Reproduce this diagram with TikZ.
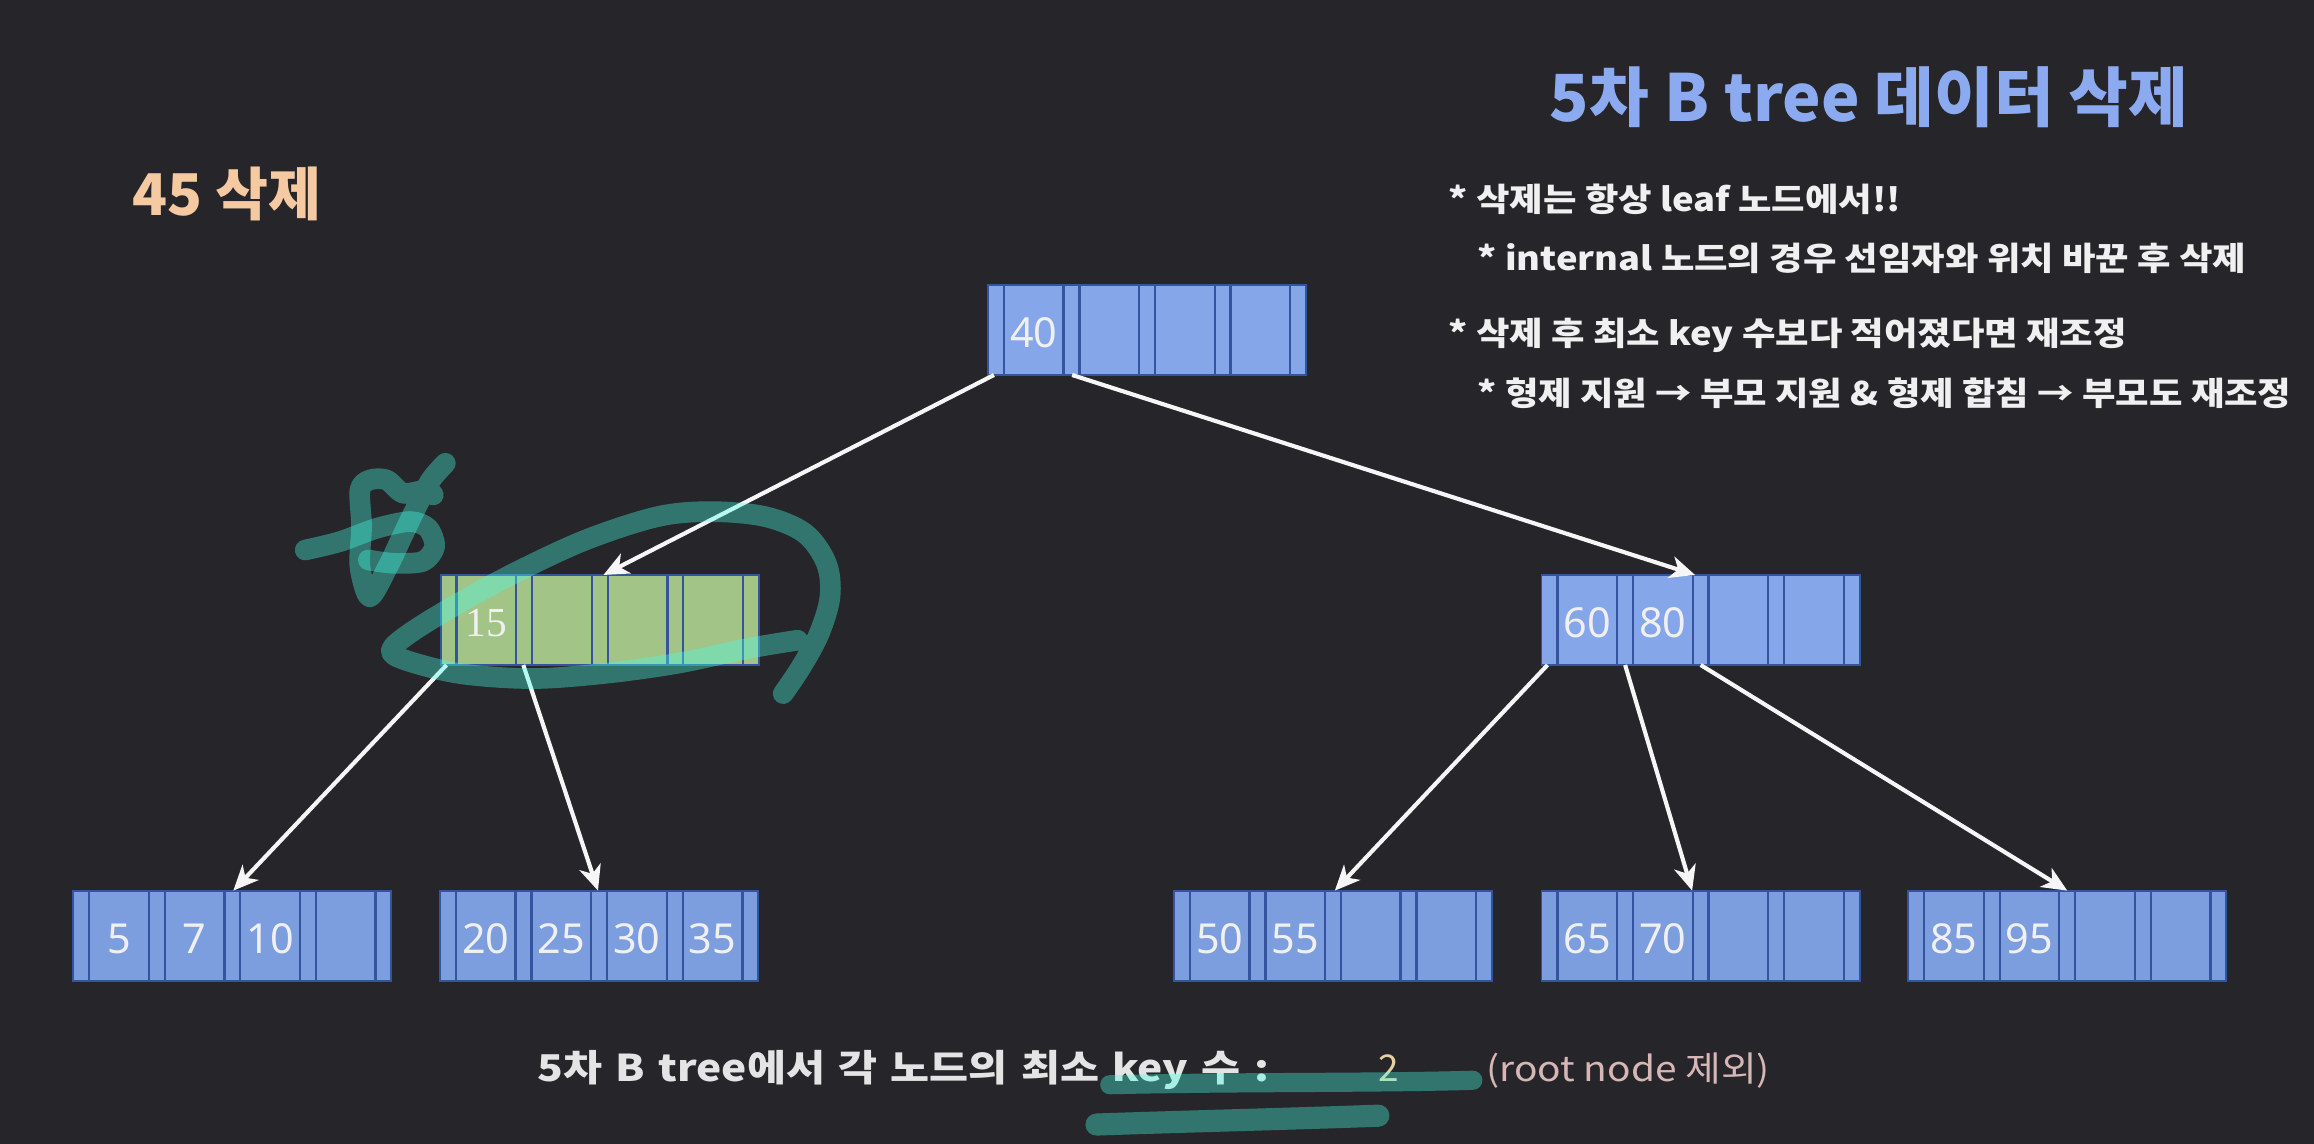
\documentclass[tikz,border=0pt]{standalone}
\usepackage{fontspec}
\usetikzlibrary{arrows.meta,calc}
\newfontfamily\kr{Noto Sans CJK KR}
\newfontfamily\krw[FakeStretch=1.12]{Noto Sans CJK KR}
\newfontfamily\krww[FakeStretch=1.15]{Noto Sans CJK KR}
\newfontfamily\numf{Noto Sans}
\newfontfamily\numserif{Liberation Serif}
\definecolor{bg}{RGB}{38,37,41}
\definecolor{nodeblue}{RGB}{134,166,234}
\definecolor{leafblue}{RGB}{124,157,222}
\definecolor{nodeborder}{RGB}{52,84,160}
\definecolor{nodegreen}{RGB}{162,196,135}
\definecolor{arrowc}{RGB}{246,246,246}
\definecolor{titlec}{RGB}{140,170,240}
\definecolor{peach}{RGB}{245,202,162}
\definecolor{textc}{RGB}{240,240,240}
\definecolor{bottomc}{RGB}{228,228,228}
\definecolor{twoc}{RGB}{230,210,160}
\definecolor{notec}{RGB}{215,182,182}
\definecolor{tealc}{RGB}{70,255,230}
\tikzset{
  bnode/.style={draw=nodeborder, line width=1.2pt, minimum width=215.6pt, minimum height=61pt, inner sep=0pt, outer sep=0pt, anchor=north west},
  divider/.style={draw=nodeborder, line width=1.6pt},
  keytxt/.style={text=textc, font=\numf\fontsize{28}{30}\selectfont, inner sep=0pt},
  arr/.style={draw=arrowc, line width=2.8pt, -{Stealth[length=17pt,width=15pt,inset=5pt]}},
  tealpen/.style={draw=tealc, draw opacity=0.37, line cap=round, line join=round},
  bullet/.style={anchor=base west, text=textc, inner sep=0pt, font=\krw\bfseries\fontsize{22}{26}\selectfont},
}
% #1 name, #2 x, #3 y, #4 fill, #5 keys, #6 key font
\newcommand{\btnode}[6]{%
  \node[bnode, fill=#4] (#1) at (#2,#3) {};
  \foreach \dx in {10.8,51.2,62,102.4,113.2,153.6,164.4,204.8}
    \draw[divider] ([xshift=\dx]#1.north west) -- ([xshift=\dx]#1.south west);
  \foreach \k [count=\i] in {#5}
    \node[keytxt, font=#6] (#1-\i) at ([xshift={31+(\i-1)*51.2}, yshift=-2]#1.west) {\k};
}
\begin{document}
\begin{tikzpicture}[x=1pt,y=1pt]
\fill[bg] (0,0) rectangle (1568,-775.17);
\useasboundingbox (0,0) rectangle (1568,-775.17);

% title and notes
\node[anchor=base, text=titlec, inner sep=0pt, font=\kr\bfseries\fontsize{44}{48}\selectfont] (title) at (1266.5,-82.4) {5차 B tree 데이터 삭제};
\node[bullet] (b1) at (981.6,-143.4) {* 삭제는 항상 leaf 노드에서!!};
\node[bullet] (b2) at (1001,-183.5) {* internal 노드의 경우 선임자와 위치 바꾼 후 삭제};
\node[bullet] (b3) at (981.6,-233.8) {* 삭제 후 최소 key 수보다 적어졌다면 재조정};
\node[bullet] (b4) at (1001,-274.5) {* 형제 지원 → 부모 지원 \& 형제 합침 → 부모도 재조정};
\node[anchor=base west, text=peach, inner sep=0pt, font=\kr\bfseries\fontsize{39}{41}\selectfont] (del) at (89.3,-145.7) {45 삭제};

% tree nodes
\btnode{root}{669.5}{-193.1}{nodeblue}{40}{\numf\fontsize{28}{30}\selectfont}
\btnode{green}{298.6}{-389.6}{nodegreen}{15}{\numserif\fontsize{28}{30}\selectfont}
\btnode{right}{1044.6}{-389.6}{nodeblue}{60,80}{\numf\fontsize{28}{30}\selectfont}
\btnode{leafa}{49.6}{-603.5}{leafblue}{5,7,10}{\numf\fontsize{28}{30}\selectfont}
\btnode{leafb}{298.2}{-603.5}{leafblue}{20,25,30,35}{\numf\fontsize{28}{30}\selectfont}
\btnode{leafc}{795.5}{-603.5}{leafblue}{50,55}{\numf\fontsize{28}{30}\selectfont}
\btnode{leafd}{1044.6}{-603.5}{leafblue}{65,70}{\numf\fontsize{28}{30}\selectfont}
\btnode{leafe}{1293}{-603.5}{leafblue}{85,95}{\numf\fontsize{28}{30}\selectfont}

% connectors
\draw[arr] ([xshift=4]root.south west) -- ([xshift=110.3]green.north west);
\draw[arr] ([xshift=57]root.south west) -- ([xshift=104]right.north west);
\draw[arr] ([xshift=4]green.south west) -- ([xshift=108.5]leafa.north west);
\draw[arr] ([xshift=56]green.south west) -- ([xshift=107]leafb.north west);
\draw[arr] ([xshift=4]right.south west) -- ([xshift=109]leafc.north west);
\draw[arr] ([xshift=56.6]right.south west) -- ([xshift=102]leafd.north west);
\draw[arr] ([xshift=107.8]right.south west) -- ([xshift=107.8]leafe.north west);

% bottom line
\node[anchor=base west, text=bottomc, inner sep=0pt, font=\krww\bfseries\fontsize{25}{28}\selectfont] (minkey) at (364,-733) {\spaceskip=9pt 5차 B tree에서 각 노드의 최소 key 수 :};
\node[anchor=base west, text=twoc, inner sep=0pt, font=\kr\fontsize{25}{28}\selectfont] (two) at (934,-733) {2};
\node[anchor=base west, text=notec, inner sep=0pt, font=\krw\fontsize{23.5}{27}\selectfont] (note) at (1007,-733) {(root node 제외)};

% teal annotations
\draw[tealpen, line width=14pt] plot[smooth, tension=0.55] coordinates {(540.5,-433.8) (506.4,-439.5) (457.7,-449.7) (408.9,-456.4) (360.2,-459.8) (311.5,-456.4) (275.0,-447.4) (265.2,-440.6) (277.4,-429.3) (306.6,-411.2) (348.0,-388.6) (396.8,-365.9) (445.5,-350.1) (482.0,-346.7) (518.6,-350.1) (545.4,-361.4) (560.0,-381.8) (562.4,-404.4) (555.1,-429.3) (542.9,-451.9) (530.7,-470.0)};
\draw[tealpen, line width=14pt] plot[smooth, tension=0.5] coordinates {(301.8,-313.9) (292.0,-325.2) (282.3,-343.3) (272.5,-363.6) (262.8,-384.0) (250.6,-404.4) (243.9,-383.9) (245.0,-356.8) (243.9,-332.0) (250.6,-325.2) (262.0,-325.2) (273.3,-334.2) (289.1,-332.0) (293.6,-335.4)};
\draw[tealpen, line width=14pt] plot[smooth, tension=0.5] coordinates {(206.8,-372.7) (230.4,-367.0) (255.2,-358.0) (277.8,-353.4) (290.1,-358.0) (294.5,-370.4) (286.6,-380.4) (266.5,-381.7) (249.6,-379.4)};
\draw[tealpen, line width=13pt] (752,-735) .. controls (840,-733) and (930,-734) .. (998,-732);
\draw[tealpen, line width=15pt] (743,-762) .. controls (800,-760) and (880,-758) .. (934,-756);
\end{tikzpicture}
\end{document}
